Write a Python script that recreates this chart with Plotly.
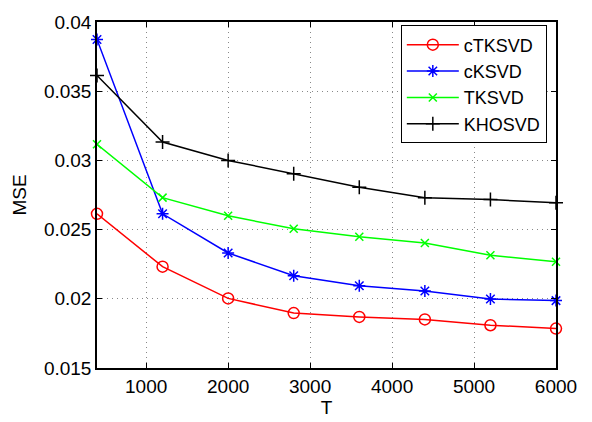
import plotly.graph_objects as go

T = [400, 1200, 2000, 2800, 3600, 4400, 5200, 6000]
ctksvd = [0.02614, 0.02232, 0.02003, 0.01897, 0.01869, 0.01851, 0.01809, 0.01785]
cksvd = [0.03874, 0.02614, 0.02331, 0.02167, 0.02094, 0.02057, 0.01999, 0.01987]
tksvd = [0.03117, 0.02731, 0.02600, 0.02506, 0.02448, 0.02403, 0.02315, 0.02268]
khosvd = [0.03614, 0.03133, 0.03000, 0.02904, 0.02806, 0.02731, 0.02717, 0.02694]

x_ticks = [1000, 2000, 3000, 4000, 5000, 6000]
y_ticks = [0.015, 0.02, 0.025, 0.03, 0.035, 0.04]
y_labels = ["0.015", "0.02", "0.025", "0.03", "0.035", "0.04"]

series = [
    ("cTKSVD", ctksvd, "#ff0000", "circle-open", 11),
    ("cKSVD", cksvd, "#0000ff", "asterisk-open", 10),
    ("TKSVD", tksvd, "#00ff00", "x-thin-open", 8),
    ("KHOSVD", khosvd, "#000000", "cross-thin-open", 10),
]

fig = go.Figure()
for name, vals, col, sym, sz in series:
    fig.add_trace(go.Scatter(
        x=T, y=vals, name=name, mode="lines+markers", cliponaxis=False,
        line=dict(color=col, width=1.5),
        marker=dict(symbol=sym, size=sz, color=col, line=dict(color=col, width=1.5)),
    ))

font = dict(family="Liberation Sans, Arial, sans-serif", size=19, color="black")
axis_common = dict(
    showline=True, linecolor="black", linewidth=1.5, mirror="ticks",
    ticks="inside", ticklen=5, tickcolor="black", tickwidth=1,
    showgrid=True, gridcolor="#888888", gridwidth=1, griddash="1px,4px",
    zeroline=False, tickfont=font,
)

fig.update_layout(
    width=592, height=422,
    margin=dict(l=97, r=36, t=13, b=53),
    paper_bgcolor="white", plot_bgcolor="white",
    font=font,
    showlegend=True,
    legend=dict(
        x=0.98, y=0.99, xanchor="right", yanchor="top",
        bordercolor="black", borderwidth=1, bgcolor="white",
        font=dict(family="Liberation Sans, Arial, sans-serif", size=18, color="black"),
        tracegroupgap=0, itemwidth=52,
    ),
    xaxis=dict(range=[400, 6000], tickvals=x_ticks, ticktext=[str(v) for v in x_ticks],
               title=dict(text="T", font=font, standoff=0), **axis_common),
    yaxis=dict(range=[0.015, 0.04], tickvals=y_ticks, ticktext=y_labels,
               title=dict(text="MSE", font=font, standoff=12), **axis_common),
)

fig.write_html("out.html")
